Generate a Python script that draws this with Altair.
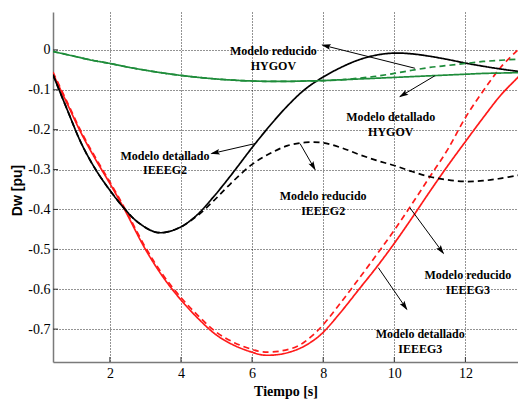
import math
import altair as alt
import pandas as pd

# ---------------- data ----------------
t_g2 = [0.4, 0.8, 1.2, 1.6, 2.0, 2.4, 2.8, 3.35, 3.9, 4.4, 4.9, 5.4, 6.0, 6.5, 7.0,
        7.5, 8.0, 8.5, 9.0, 9.5, 10.0, 10.5, 11.0, 11.5, 12.0, 12.5, 13.0, 13.5]
g2_det = [-0.0625, -0.15, -0.235, -0.30, -0.352, -0.397, -0.433, -0.458, -0.448, -0.418,
          -0.37, -0.315, -0.245, -0.19, -0.14, -0.098, -0.068, -0.044, -0.025, -0.013,
          -0.008, -0.010, -0.016, -0.024, -0.033, -0.041, -0.048, -0.054]
g2_red = [-0.0625, -0.15, -0.235, -0.30, -0.352, -0.397, -0.433, -0.458, -0.448, -0.42,
          -0.38, -0.335, -0.287, -0.26, -0.24, -0.232, -0.233, -0.245, -0.262, -0.277,
          -0.29, -0.305, -0.318, -0.326, -0.33, -0.328, -0.322, -0.314]

t_g3 = [0.4, 0.8, 1.2, 1.6, 2.0, 2.4, 3.0, 3.5, 4.0, 4.5, 5.0, 5.5, 6.0, 6.3, 6.8, 7.3,
        7.7, 8.0, 8.5, 9.0, 9.5, 10.0, 10.5, 11.0, 11.5, 12.0, 12.5, 13.0, 13.5]
g3_det = [-0.06, -0.135, -0.21, -0.275, -0.335, -0.398, -0.50, -0.57, -0.627, -0.675,
          -0.715, -0.741, -0.758, -0.765, -0.763, -0.75, -0.73, -0.708, -0.657, -0.601,
          -0.545, -0.485, -0.421, -0.355, -0.291, -0.23, -0.17, -0.113, -0.067]
g3_red = [-0.056, -0.131, -0.206, -0.271, -0.331, -0.394, -0.495, -0.565, -0.621, -0.668,
          -0.708, -0.734, -0.751, -0.757, -0.755, -0.742, -0.716, -0.689, -0.633, -0.574,
          -0.514, -0.452, -0.386, -0.318, -0.25, -0.17, -0.103, -0.043, 0.002]

t_hy = [0.4, 1.0, 1.5, 2.0, 2.5, 3.0, 3.5, 4.0, 4.5, 5.0, 5.5, 6.0, 6.5, 7.0, 7.5, 8.0,
        8.5, 9.0, 9.5, 10.0, 10.5, 11.0, 11.5, 12.0, 12.5, 13.0, 13.5]
hy_det = [-0.004, -0.016, -0.026, -0.034, -0.043, -0.051, -0.058, -0.064, -0.069, -0.073,
          -0.076, -0.078, -0.079, -0.079, -0.078, -0.077, -0.075, -0.073, -0.071, -0.069,
          -0.067, -0.065, -0.063, -0.061, -0.059, -0.058, -0.057]
hy_red = [-0.004, -0.016, -0.026, -0.034, -0.043, -0.051, -0.058, -0.064, -0.069, -0.073,
          -0.076, -0.078, -0.079, -0.079, -0.078, -0.077, -0.075, -0.071, -0.066, -0.059,
          -0.051, -0.044, -0.039, -0.034, -0.029, -0.026, -0.023]

series_names = ["IEEEG3 det", "IEEEG3 red", "IEEEG2 det", "IEEEG2 red", "HYGOV det", "HYGOV red"]
series_colors = ["#ff1a1a", "#ff1a1a", "#000000", "#000000", "#1e8c3a", "#1e8c3a"]
series_dash = [[1, 0], [6, 4], [1, 0], [6, 4], [1, 0], [6, 4]]

x_ticks = [2, 4, 6, 8, 10, 12]
y_ticks = [0, -0.1, -0.2, -0.3, -0.4, -0.5, -0.6, -0.7]

ann_text = ["Modelo reducido\nHYGOV", "Modelo detallado\nHYGOV", "Modelo detallado\nIEEEG2",
            "Modelo reducido\nIEEEG2", "Modelo reducido\nIEEEG3", "Modelo detallado\nIEEEG3"]
ann_tx = [6.6, 9.9, 3.55, 8.0, 12.07, 10.73]
ann_ty = [-0.003, -0.169, -0.265, -0.367, -0.565, -0.713]
arr_t0 = [10.58, 11.14, 6.08, 7.35, 10.44, 9.55]
arr_v0 = [-0.046, -0.065, -0.235, -0.235, -0.396, -0.546]
arr_t1 = [7.98, 10.16, 4.86, 7.77, 11.38, 10.35]
arr_v1 = [0.012, -0.117, -0.26, -0.30, -0.51, -0.65]

# ---------------- layout ----------------
x_min, x_max = 0.4, 13.48
y_min, y_max = -0.7825, 0.095
W, H = 465, 350
px_x = W / (x_max - x_min)
px_y = H / (y_max - y_min)

rows = []
for name, ts, vs in [("IEEEG3 det", t_g3, g3_det), ("IEEEG3 red", t_g3, g3_red),
                     ("IEEEG2 det", t_g2, g2_det), ("IEEEG2 red", t_g2, g2_red),
                     ("HYGOV det", t_hy, hy_det), ("HYGOV red", t_hy, hy_red)]:
    for t, v in zip(ts, vs):
        rows.append({"serie": name, "t": t, "v": v})
df = pd.DataFrame(rows)

xs = alt.Scale(domain=[x_min, x_max], nice=False, zero=False)
ys = alt.Scale(domain=[y_min, y_max], nice=False, zero=False)

serif = "Liberation Serif"

x_axis = alt.Axis(
    values=x_ticks, grid=True, gridDash=[1, 2], gridColor="#000000",
    gridOpacity=0.85, ticks=False, domainColor="#7a7a7a", domainWidth=1.5,
    labelFont=serif, labelFontSize=14, labelColor="#000000", labelPadding=4,
    titleFont=serif, titleFontSize=14, titleFontWeight="bold", titleColor="#000000",
    titlePadding=4)
y_axis = alt.Axis(
    values=y_ticks, grid=True, gridDash=[1, 2], gridColor="#000000",
    gridOpacity=0.85, ticks=False, domainColor="#7a7a7a", domainWidth=1.5,
    labelFont=serif, labelFontSize=14, labelColor="#000000", labelPadding=3,
    labelExpr="datum.value == 0 ? '0' : '-0.' + round(-datum.value * 10)",
    titleFont="Liberation Sans", titleFontSize=14, titleFontWeight="bold",
    titleColor="#000000", titleAngle=270, titleX=-36, titleY=178,
    titleAlign="center", titleBaseline="middle")


def X(field="t"):
    return alt.X(field + ":Q", scale=xs, axis=x_axis, title="Tiempo [s]")


def Y(field="v"):
    return alt.Y(field + ":Q", scale=ys, axis=y_axis, title="Dw [pu]")


lines = alt.Chart(df).mark_line(clip=True, strokeWidth=1.7, interpolate="catmull-rom").encode(
    x=X(), y=Y(),
    color=alt.Color("serie:N", scale=alt.Scale(domain=series_names, range=series_colors), legend=None),
    strokeDash=alt.StrokeDash("serie:N", scale=alt.Scale(domain=series_names, range=series_dash), legend=None),
)

# inward tick marks
yt = pd.DataFrame({"t": [x_min] * len(y_ticks), "t2": [x_min + 5 / px_x] * len(y_ticks), "v": y_ticks})
xt = pd.DataFrame({"t": x_ticks, "v": [y_min] * len(x_ticks), "v2": [y_min + 5 / px_y] * len(x_ticks)})
ytick_layer = alt.Chart(yt).mark_rule(color="#333333", strokeWidth=1).encode(
    x=X(), x2="t2:Q", y=Y())
xtick_layer = alt.Chart(xt).mark_rule(color="#333333", strokeWidth=1).encode(
    x=X(), y=Y(), y2="v2:Q")

# annotations
arr = pd.DataFrame({"t": arr_t0, "v": arr_v0, "t2": arr_t1, "v2": arr_v1})
arrow_lines = alt.Chart(arr).mark_rule(color="#000000", strokeWidth=1).encode(
    x=X(), y=Y(), x2="t2:Q", y2="v2:Q")

angles, hx, hy = [], [], []
back = 4.5  # px, so that the tip of the head sits at the arrow end
for a0, b0, a1, b1 in zip(arr_t0, arr_v0, arr_t1, arr_v1):
    dx = (a1 - a0) * px_x
    dy = -(b1 - b0) * px_y
    n = math.hypot(dx, dy)
    angles.append(math.degrees(math.atan2(dx, -dy)) % 360)
    hx.append(a1 - back * dx / n / px_x)
    hy.append(b1 + back * dy / n / px_y)
heads = pd.DataFrame({"t": hx, "v": hy, "ang": angles})
head_layer = alt.Chart(heads).mark_point(
    shape="M0,-1L0.5,0.65L0,0.35L-0.5,0.65Z", filled=True, color="#000000",
    size=130, opacity=1, strokeWidth=0).encode(
    x=X(), y=Y(), angle=alt.Angle("ang:Q", scale=None))

txt = pd.DataFrame({"t": ann_tx, "v": ann_ty, "label": ann_text})
text_layer = alt.Chart(txt).mark_text(font=serif, fontSize=12, fontWeight="bold", color="#000000",
                                      align="center", baseline="middle", lineBreak="\n",
                                      lineHeight=14.5).encode(
    x=X(), y=Y(), text="label:N")

chart = alt.layer(lines, ytick_layer, xtick_layer, arrow_lines, head_layer, text_layer).properties(
    width=W, height=H, autosize="none",
    padding={"left": 45, "top": 4, "right": 0, "bottom": 39},
    background="white",
).configure_view(stroke=None)

chart.save("out.html", embed_options={"renderer": "svg", "actions": False})
